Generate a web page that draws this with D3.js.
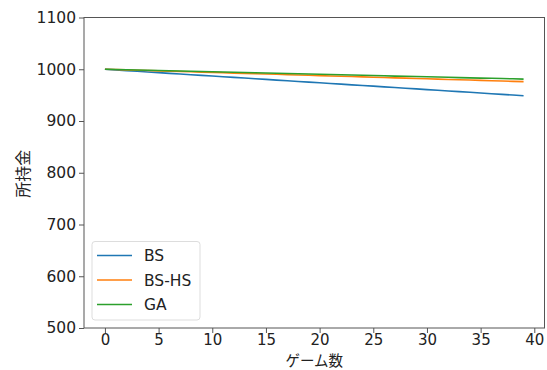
<!DOCTYPE html>
<html><head><meta charset="utf-8">
<script src="https://cdn.jsdelivr.net/npm/d3@7"></script>
<style>body{margin:0;background:#fff;} text{font-family:"DejaVu Sans","Noto Sans CJK JP",sans-serif;}</style>
</head><body><svg id="c" width="547" height="370"></svg>
<script>
const games = d3.range(0, 40);
const seriesNames = ["BS", "BS-HS", "GA"];
const seriesColors = ["#1f77b4", "#ff7f0e", "#2ca02c"];
const bs = [1000,998.7,997.4,996.1,994.8,993.5,992.1,990.8,989.5,988.2,986.9,985.6,984.3,983.0,981.7,980.4,979.0,977.7,976.4,975.1,973.8,972.5,971.2,969.9,968.6,967.3,965.9,964.6,963.3,962.0,960.7,959.4,958.1,956.8,955.5,954.2,952.8,951.5,950.2,948.9];
const bshs = [1000,999.4,998.8,998.2,997.5,996.9,996.3,995.7,995.1,994.5,993.9,993.2,992.6,992.0,991.4,990.8,990.2,989.5,988.9,988.3,987.7,987.1,986.5,985.9,985.2,984.6,984.0,983.4,982.8,982.2,981.5,980.9,980.3,979.7,979.1,978.5,977.9,977.2,976.6,976.0];
const ga = [1000,999.5,999.0,998.5,998.1,997.6,997.1,996.6,996.1,995.6,995.1,994.6,994.2,993.7,993.2,992.7,992.2,991.7,991.2,990.7,990.3,989.8,989.3,988.8,988.3,987.8,987.3,986.8,986.4,985.9,985.4,984.9,984.4,983.9,983.4,982.9,982.5,982.0,981.5,981.0];
const xTicks = [0,5,10,15,20,25,30,35,40];
const yTicks = [500,600,700,800,900,1000,1100];
const xLabel = "ゲーム数";
const yLabel = "所持金";

const svg = d3.select("#c");
const L = 84, R = 544.5, T = 17.5, B = 328;
const x = d3.scaleLinear().domain([-1.95, 40.95]).range([L, R]);
const y = d3.scaleLinear().domain([500, 1100]).range([B, T]);

const data = [bs, bshs, ga];
const line = d3.line().x((d, i) => x(games[i])).y(d => y(d));
data.forEach((s, k) => {
  svg.append("path").attr("d", line(s)).attr("fill", "none")
    .attr("stroke", seriesColors[k]).attr("stroke-width", 1.6);
});

const axColor = "#555";
const xa = svg.append("g").attr("transform", `translate(0,${B})`)
  .call(d3.axisBottom(x).tickValues(xTicks).tickSize(5).tickPadding(1.5).tickFormat(d3.format("d")));
const ya = svg.append("g").attr("transform", `translate(${L},0)`)
  .call(d3.axisLeft(y).tickValues(yTicks).tickSize(5).tickPadding(3).tickFormat(d3.format("d")));
[xa, ya].forEach((g, i) => {
  g.select(".domain").remove();
  g.selectAll("line").attr("stroke", axColor);
  g.selectAll("text").attr("fill", "#222").style("font-size", i === 0 ? "15px" : "15.5px").style("font-family", "'DejaVu Sans', sans-serif");
});
svg.append("rect").attr("x", L).attr("y", T).attr("width", R - L).attr("height", B - T)
  .attr("fill", "none").attr("stroke", axColor).attr("stroke-width", 1);

svg.append("text").attr("x", (L + R) / 2).attr("y", 365.5).attr("text-anchor", "middle")
  .attr("fill", "#222").style("font-size", "14.5px").style("font-family", "'Noto Sans CJK JP', sans-serif").text(xLabel);
svg.append("text").attr("transform", `translate(29,${(T + B) / 2 + 1}) rotate(-90)`).attr("text-anchor", "middle")
  .attr("fill", "#222").style("font-size", "16px").style("font-family", "'Noto Sans CJK JP', sans-serif").text(yLabel);

const lg = svg.append("g");
lg.append("rect").attr("x", 92).attr("y", 241.5).attr("width", 108).attr("height", 78.5)
  .attr("rx", 3).attr("fill", "#fff").attr("stroke", "#ddd");
seriesNames.forEach((n, k) => {
  const yy = 255.5 + k * 24.5;
  lg.append("line").attr("x1", 97).attr("x2", 132).attr("y1", yy).attr("y2", yy)
    .attr("stroke", seriesColors[k]).attr("stroke-width", 1.6);
  lg.append("text").attr("x", 144).attr("y", yy + 5.5).attr("fill", "#222")
    .style("font-size", "15.5px").text(n);
});
</script></body></html>
